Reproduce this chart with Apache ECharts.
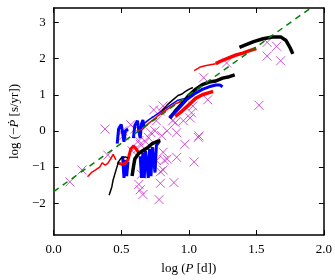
<!DOCTYPE html>
<html><head><meta charset="utf-8">
<script src="https://cdn.jsdelivr.net/npm/echarts@6/dist/echarts.min.js"></script>
<style>html,body{margin:0;padding:0;background:#fff}#c{width:335px;height:280px}</style>
</head><body><div id="c"></div>
<script>
const xTicks = [0, 0.5, 1.0, 1.5, 2.0];
const yTicks = [-2, -1, 0, 1, 2, 3];

const obsPoints = [
  [0.12,-1.41],[0.21,-1.08],[0.38,0.05],[0.40,-0.67],[0.51,0.0],[0.52,-0.12],[0.57,0.17],
  [0.60,0.05],[0.63,-0.27],[0.62,-0.5],[0.65,-1.2],[0.63,-1.48],[0.64,-1.63],[0.66,-1.76],
  [0.70,-0.18],[0.72,-0.05],[0.75,0.0],[0.74,0.58],[0.79,0.55],[0.76,0.28],[0.81,0.69],
  [0.80,-0.13],[0.84,0.0],[0.88,0.28],[0.90,0.23],[0.91,-0.05],[0.96,0.28],[0.97,-0.37],
  [1.01,0.36],[1.02,0.5],[1.03,0.69],[1.07,-0.18],[1.075,-0.14],[1.14,0.86],[1.11,1.47],
  [0.76,-0.82],[0.81,-0.59],[0.82,-0.81],[0.84,-0.78],[0.91,-0.73],[1.04,-0.86],[0.79,-1.13],
  [0.81,-1.08],[0.89,-1.43],[0.79,-1.45],[0.78,-1.9],[0.68,-0.3],[0.72,-0.6],[0.58,-0.55],
  [0.64,-0.37],[1.28,1.88],[1.52,0.71],[1.58,2.45],[1.65,2.34],[1.58,2.07],[1.68,1.94]
];

const fitLine = [[0,-1.68],[2.0,3.66]];

const redThinA = [[0.25,-1.27],[0.28,-1.15],[0.31,-1.08],[0.34,-1.0],[0.36,-0.88],[0.38,-0.95],[0.40,-0.9],[0.42,-0.78],[0.44,-0.65],[0.45,-0.62],[0.46,-0.8]];
const redThickB = [[0.47,-0.88],[0.50,-0.92],[0.53,-0.9],[0.55,-0.8],[0.57,-0.5],[0.59,-0.42],[0.61,-0.5],[0.63,-0.62]];
const redThinC = [[0.62,0.0],[0.66,0.05],[0.70,0.2],[0.75,0.35],[0.80,0.5],[0.85,0.62],[0.90,0.75],[0.95,0.82]];
const redThickD = [[0.90,0.4],[0.95,0.55],[1.0,0.72],[1.05,0.9],[1.1,1.0],[1.15,1.06],[1.18,1.09]];
const redThinE = [[1.04,1.67],[1.08,1.76],[1.12,1.8],[1.16,1.83],[1.2,1.86]];
const redThickF = [[1.2,1.86],[1.23,1.92],[1.24,1.88],[1.3,2.03],[1.35,2.1],[1.4,2.15],[1.45,2.22],[1.5,2.28]];

const blackThinA = [[0.41,-1.78],[0.43,-1.55],[0.44,-1.35],[0.46,-1.1],[0.48,-0.85],[0.50,-0.75],[0.53,-0.72],[0.55,-0.75]];
const blackThickB = [[0.58,-1.25],[0.59,-1.0],[0.60,-0.78],[0.63,-0.62],[0.67,-0.52],[0.70,-0.45],[0.73,-0.35],[0.76,-0.3],[0.79,-0.27]];
const blackThinC = [[0.80,0.55],[0.84,0.72],[0.88,0.85],[0.92,0.98],[0.95,1.02],[0.97,1.08],[1.0,1.15],[1.03,1.2]];
const blackThickD = [[0.86,0.35],[0.90,0.55],[0.95,0.75],[1.0,0.98],[1.05,1.15],[1.1,1.28],[1.15,1.35],[1.2,1.38],[1.25,1.46],[1.3,1.5],[1.34,1.55]];
const blackThickE = [[1.375,2.31],[1.42,2.38],[1.48,2.47],[1.55,2.55],[1.62,2.6],[1.68,2.6],[1.72,2.5],[1.75,2.3],[1.77,2.13]];

const blueThickA = [[0.47,-0.35],[0.48,0.05],[0.50,0.18],[0.51,-0.05],[0.52,-0.3],[0.53,0.0],[0.55,0.05]];
const blueThickB = [[0.51,-0.7],[0.52,-1.3],[0.53,-0.8],[0.54,-1.25],[0.55,-0.85]];
const blueThickC = [[0.59,-0.2],[0.60,0.15],[0.62,0.28],[0.63,0.0],[0.64,-0.2],[0.65,0.2],[0.66,0.3],[0.67,0.1]];
const blueThickD = [[0.64,-0.7],[0.65,-1.3],[0.66,-0.6],[0.67,-1.3],[0.68,-0.55],[0.70,-1.3],[0.71,-0.5],[0.72,-1.25],[0.73,-0.45],[0.75,-1.15],[0.76,-0.4],[0.78,-0.3]];
const blueThinE = [[0.62,0.05],[0.70,0.3],[0.78,0.5],[0.85,0.68],[0.92,0.85],[0.97,0.9]];
const blueThickF = [[0.86,0.38],[0.92,0.6],[0.98,0.85],[1.04,1.02],[1.1,1.15],[1.15,1.22],[1.2,1.27],[1.23,1.27],[1.25,1.22]];

const FONT = 'Liberation Serif';
function lineS(data, color, width) {
  return {type:'line', data, showSymbol:false, symbol:'none', lineStyle:{color, width}, z:3, animation:false};
}

const chart = echarts.init(document.getElementById('c'), null, {renderer:'canvas'});
const axisLine = {show:true, onZero:false, lineStyle:{color:'#000', width:1.5}};
const tickStyle = {color:'#000', width:1};
const rich = {n:{fontFamily:FONT, fontSize:13, color:'#000'}, i:{fontFamily:FONT, fontSize:13, fontStyle:'italic', color:'#000'}};
chart.setOption({
  animation:false,
  backgroundColor:'#fff',
  grid:{left:53, right:10, top:8, bottom:41},
  xAxis:[
    {type:'value', min:0, max:2, interval:0.5, position:'bottom', axisLine, splitLine:{show:false},
      axisTick:{show:true, inside:true, length:5, lineStyle:tickStyle},
      axisLabel:{color:'#000', fontFamily:FONT, fontSize:13, margin:8, formatter:v=>v.toFixed(1)},
      name:'{n|log (}{i|P}{n| [d])}', nameLocation:'middle', nameGap:27, nameTextStyle:{rich}},
    {type:'value', min:0, max:2, interval:0.5, position:'top', axisLine, splitLine:{show:false},
      axisTick:{show:true, inside:true, length:5, lineStyle:tickStyle}, axisLabel:{show:false}}
  ],
  yAxis:[
    {type:'value', min:-2.88, max:3.4, position:'left', axisLine, splitLine:{show:false},
      axisLabel:{color:'#000', fontFamily:FONT, fontSize:13, margin:8, customValues:yTicks, formatter:v=>String(v).replace('-', '\u2212')},
      axisTick:{show:true, inside:true, length:5, customValues:yTicks, lineStyle:tickStyle},
      name:'{n|log (\u2212}{i|P\u0307}{n| [s/yr])}', nameLocation:'middle', nameGap:29, nameRotate:90, nameTextStyle:{rich}},
    {type:'value', min:-2.88, max:3.4, position:'right', axisLabel:{show:false}, axisLine, splitLine:{show:false},
      axisTick:{show:true, inside:true, length:5, customValues:yTicks, lineStyle:tickStyle}}
  ],
  series:[
    {type:'scatter', data:obsPoints, symbol:'path://M0,0L10,10M10,0L0,10', symbolSize:9,
      itemStyle:{color:'none', borderColor:'#c828c8', borderWidth:1}, z:2, animation:false},
    lineS(redThinA,'#ff0000',1.5),
    lineS(blueThickA,'#0000ff',3),
    lineS(blueThickB,'#0000ff',3),
    lineS(blueThickC,'#0000ff',3),
    lineS(blueThickD,'#0000ff',3),
    lineS(redThickB,'#ff0000',3),
    lineS(blackThinA,'#000',1.5),
    lineS(blackThickB,'#000',3.5),
    lineS(blueThinE,'#0000ff',1.5),
    lineS(redThinC,'#ff0000',1.5),
    lineS(blackThinC,'#000',1.5),
    lineS(blackThickD,'#000',3.5),
    lineS(blueThickF,'#0000ff',3),
    lineS(redThickD,'#ff0000',3.5),
    lineS(redThinE,'#ff0000',1.5),
    lineS(redThickF,'#ff0000',3.5),
    lineS(blackThickE,'#000',3.5),
    {type:'line', data:fitLine, showSymbol:false, symbol:'none', z:4, animation:false,
      lineStyle:{color:'#008000', width:1.5, type:[6,5]}}
  ]
});
</script></body></html>
